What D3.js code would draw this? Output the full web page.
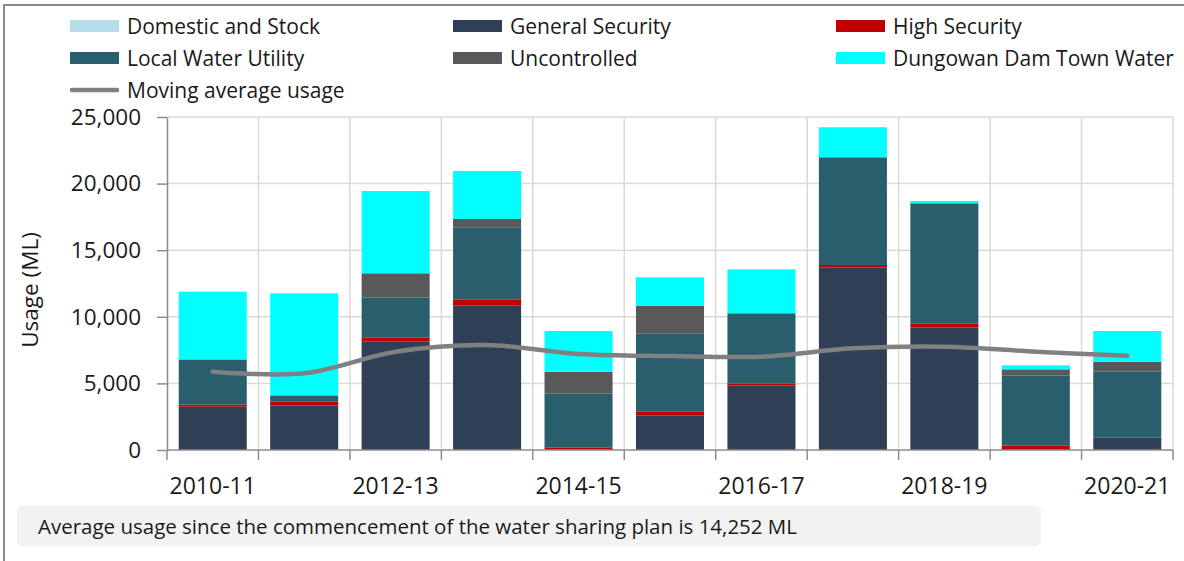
<!DOCTYPE html>
<html>
  <head>
    <meta charset="UTF-8">
    <title>Water usage by licence category</title>
    <script src="https://d3js.org/d3.v7.min.js"></script>
    <style>
      body { margin: 0; background: #fff; }
      text { font-family: "Open Sans", sans-serif; fill: #1a1a1a; }
      .grid line { stroke: #d9d9d9; stroke-width: 1.5px; }
      .axis path, .axis line { stroke: #8c8c8c; stroke-width: 1.5px; }
    </style>
  </head>
  <body>
    <div id="chart"></div>
    <script>
      // values (ML)
      const categories = ["2010-11", "2011-12", "2012-13", "2013-14", "2014-15", "2015-16",
                          "2016-17", "2017-18", "2018-19", "2019-20", "2020-21"];
      const domesticStock     = [0, 0, 0, 0, 0, 0, 0, 0, 0, 0, 0];
      const generalSecurity   = [3250, 3350, 8130, 10835, 0, 2605, 4830, 13715, 9185, 0, 950];
      const highSecurity      = [150, 275, 330, 480, 200, 300, 175, 175, 325, 350, 0];
      const localWaterUtility = [3400, 475, 3000, 5405, 4055, 5855, 5260, 8085, 9010, 5255, 4930];
      const uncontrolled      = [0, 0, 1805, 625, 1625, 2075, 0, 0, 0, 450, 750];
      const dungowanTown      = [5085, 7665, 6180, 3605, 3055, 2130, 3300, 2255, 175, 300, 2305];
      const movingAverage     = [5880, 5755, 7380, 7880, 7205, 7055, 7005, 7630, 7755, 7380, 7080];
      const xTickLabels = ["2010-11", "2012-13", "2014-15", "2016-17", "2018-19", "2020-21"];
      const yTicks = [0, 5000, 10000, 15000, 20000, 25000];

      const seriesNames = ["Domestic and Stock", "General Security", "High Security",
                           "Local Water Utility", "Uncontrolled", "Dungowan Dam Town Water"];
      const seriesValues = [domesticStock, generalSecurity, highSecurity,
                            localWaterUtility, uncontrolled, dungowanTown];
      const colors = ["#b7dee8", "#2f3f56", "#c00000", "#295f6d", "#595959", "#00ffff"];

      const width = 1184, height = 561;
      const plotLeft = 167, plotRight = 1173, plotTop = 117, plotBottom = 450;

      const svg = d3.select("#chart").append("svg")
        .attr("width", width)
        .attr("height", height);

      // outer frame (only top and left show in the picture)
      svg.append("path")
        .attr("d", `M4,${height} V5 H${width}`)
        .attr("fill", "none")
        .attr("stroke", "#8a8a8a")
        .attr("stroke-width", 2);

      const table = categories.map((c, i) => {
        const row = { cat: c };
        seriesNames.forEach((s, j) => row[s] = seriesValues[j][i]);
        return row;
      });

      const x = d3.scaleBand()
        .domain(categories)
        .range([plotLeft, plotRight])
        .paddingInner(0.256)
        .paddingOuter(0.128);

      const y = d3.scaleLinear()
        .domain([0, 25000])
        .range([plotBottom, plotTop]);

      // gridlines
      const boundaries = d3.range(categories.length + 1).map(i => plotLeft + i * x.step());
      const grid = svg.append("g").attr("class", "grid");
      grid.selectAll(".h").data(yTicks.filter(d => d > 0)).join("line")
        .attr("x1", plotLeft).attr("x2", plotRight)
        .attr("y1", d => y(d)).attr("y2", d => y(d));
      grid.selectAll(".v").data(boundaries.slice(1)).join("line")
        .attr("x1", d => d).attr("x2", d => d)
        .attr("y1", plotTop).attr("y2", plotBottom);

      // stacked bars
      const stack = d3.stack().keys(seriesNames);
      const layers = stack(table);

      svg.append("g").selectAll("g")
        .data(layers)
        .join("g")
        .attr("fill", (d, i) => colors[i])
        .selectAll("rect")
        .data(d => d)
        .join("rect")
        .attr("x", d => x(d.data.cat))
        .attr("width", x.bandwidth())
        .attr("y", d => y(d[1]))
        .attr("height", d => y(d[0]) - y(d[1]));

      // y axis
      const yAxis = svg.append("g")
        .attr("class", "axis")
        .attr("transform", `translate(${plotLeft},0)`)
        .call(d3.axisLeft(y).tickValues(yTicks).tickFormat(d3.format(",")).tickSize(10).tickPadding(16).tickSizeOuter(0));
      yAxis.selectAll("text").style("font-size", "22.5px").attr("fill", "#1a1a1a");

      // x axis line with ticks at category boundaries
      const xAxis = svg.append("g").attr("class", "axis");
      xAxis.append("line")
        .attr("x1", plotLeft).attr("x2", plotRight)
        .attr("y1", plotBottom).attr("y2", plotBottom);
      xAxis.selectAll(".tick").data(boundaries).join("line")
        .attr("x1", d => d).attr("x2", d => d)
        .attr("y1", plotBottom).attr("y2", plotBottom + 10);
      xAxis.selectAll("text").data(xTickLabels).join("text")
        .attr("x", d => x(d) + x.bandwidth() / 2)
        .attr("y", 494)
        .attr("text-anchor", "middle")
        .style("font-size", "23px")
        .text(d => d);

      // moving average
      const line = d3.line()
        .x((d, i) => x(categories[i]) + x.bandwidth() / 2)
        .y(d => y(d))
        .curve(d3.curveCatmullRom.alpha(0.5));

      svg.append("path")
        .datum(movingAverage)
        .attr("d", line)
        .attr("fill", "none")
        .attr("stroke", "#808080")
        .attr("stroke-width", 4.5)
        .attr("stroke-linecap", "round");

      // y axis title
      svg.append("text")
        .attr("transform", "translate(38,290) rotate(-90)")
        .attr("text-anchor", "middle")
        .style("font-size", "22.5px")
        .text("Usage (ML)");

      // legend
      const legendPos = [[70, 26], [453, 26], [836, 26], [70, 58], [453, 58], [836, 58]];
      const legend = svg.append("g");
      const items = legend.selectAll("g").data(seriesNames).join("g")
        .attr("transform", (d, i) => `translate(${legendPos[i][0]},${legendPos[i][1]})`);
      items.append("rect")
        .attr("x", 0).attr("y", -6)
        .attr("width", 49).attr("height", 12)
        .attr("fill", (d, i) => colors[i]);
      items.append("text")
        .attr("x", 57).attr("y", 7.5)
        .style("font-size", "21px")
        .text(d => d);

      const ma = legend.append("g").attr("transform", "translate(70,90)");
      ma.append("line")
        .attr("x1", 2).attr("x2", 47)
        .attr("stroke", "#808080").attr("stroke-width", 4.5).attr("stroke-linecap", "round");
      ma.append("text")
        .attr("x", 57).attr("y", 7.5)
        .style("font-size", "21px")
        .text("Moving average usage");

      // footer note
      svg.append("rect")
        .attr("x", 17).attr("y", 506)
        .attr("width", 1024).attr("height", 40)
        .attr("rx", 5)
        .attr("fill", "#f2f2f2");
      svg.append("text")
        .attr("x", 38).attr("y", 534)
        .attr("textLength", 759)
        .attr("lengthAdjust", "spacingAndGlyphs")
        .style("font-size", "20px")
        .text("Average usage since the commencement of the water sharing plan is 14,252 ML");
    </script>
  </body>
</html>
